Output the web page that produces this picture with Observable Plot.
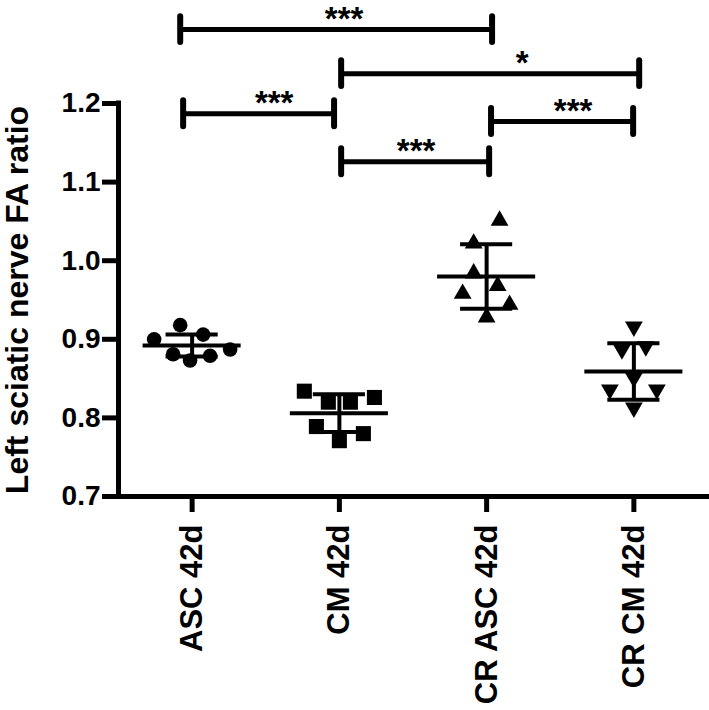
<!DOCTYPE html>
<html>
<head>
<meta charset="utf-8">
<script src="https://cdn.jsdelivr.net/npm/d3@7"></script>
<script src="https://cdn.jsdelivr.net/npm/@observablehq/plot@0.6"></script>
<style>
  html, body { margin: 0; padding: 0; background: #fff; }
  #chart { width: 709px; height: 710px; }
</style>
</head>
<body>
<div id="chart"></div>
<script>
// ---- data ----
const groups = ["ASC 42d", "CM 42d", "CR ASC 42d", "CR CM 42d"];
const yTicks = [0.7, 0.8, 0.9, 1.0, 1.1, 1.2];
const yLabel = "Left sciatic nerve FA ratio";

// individual animals (FA ratio)
const ascValues   = [0.900, 0.918, 0.906, 0.881, 0.873, 0.879, 0.887];
const cmValues    = [0.834, 0.820, 0.820, 0.826, 0.789, 0.780, 0.771];
const crAscValues = [1.051, 1.022, 0.984, 0.968, 0.958, 0.944, 0.928];
const crCmValues  = [0.916, 0.887, 0.891, 0.851, 0.836, 0.836, 0.813];
// horizontal scatter of each point within its group (in group units)
const ascSpread   = [-0.258, -0.081, 0.075, -0.129, -0.014, 0.122, 0.258];
const cmSpread    = [-0.238, -0.075, 0.075, 0.238, -0.156, 0.163, 0.0];
const crAscSpread = [0.088, -0.088, -0.088, 0.075, -0.163, 0.156, 0.0];
const crCmSpread  = [0.0, -0.081, 0.081, 0.0, -0.163, 0.156, 0.0];

// mean and SD per group
const means = [0.892, 0.806, 0.980, 0.859];
const sds   = [0.014, 0.024, 0.041, 0.036];

// significance brackets: from group position, to group position, height, label, label position
const bracketFrom  = [-0.081, 1.012, -0.061, 2.030, 1.012];
const bracketTo    = [2.037, 3.036, 0.964, 2.995, 2.017];
const bracketY     = [1.294, 1.238, 1.187, 1.177, 1.126];
const bracketLabel = ["***", "*", "***", "***", "***"];
const bracketLabelX = [1.032, 2.241, 0.557, 2.587, 1.521];

// ---- build tables ----
const valueSets = [ascValues, cmValues, crAscValues, crCmValues];
const spreadSets = [ascSpread, cmSpread, crAscSpread, crCmSpread];
const points = valueSets.flatMap((vals, g) =>
  vals.map((v, i) => ({g, x: g + spreadSets[g][i], y: v})));
const summary = groups.map((name, g) => ({g, mean: means[g], lo: means[g] - sds[g], hi: means[g] + sds[g]}));
const brackets = bracketFrom.map((f, i) => ({x1: f, x2: bracketTo[i], y: bracketY[i], label: bracketLabel[i], lx: bracketLabelX[i]}));

const triangleDown = {
  draw(context, size) {
    const s3 = Math.sqrt(3);
    const y = -Math.sqrt(size / (s3 * 3));
    context.moveTo(0, -y * 2);
    context.lineTo(-s3 * y, y);
    context.lineTo(s3 * y, y);
    context.closePath();
  }
};
const symbolList = ["circle", "square", "triangle", triangleDown];
const radii = [7.3, 8.5, 6.6, 6.6];

const capHalf = 0.0165;
const font = "'Liberation Sans', Arial, Helvetica, sans-serif";

const chart = Plot.plot({
  width: 709,
  height: 710,
  marginLeft: 118,
  marginRight: 2,
  marginTop: 103,
  marginBottom: 214,
  x: {type: "linear", domain: [-0.5, 3.5], axis: null},
  y: {domain: [0.7, 1.2], axis: null},
  style: {fontFamily: font, background: "#fff", color: "#000", overflow: "visible"},
  marks: [
    // axes
    Plot.axisY({ticks: yTicks, tickFormat: d => d.toFixed(1), tickSize: 16, tickPadding: 2,
      fontSize: 28, fontWeight: "bold", strokeWidth: 5, label: null}),
    Plot.axisX({ticks: [0, 1, 2, 3], tickFormat: i => groups[i], tickSize: 16, tickPadding: 12,
      tickRotate: -90, fontSize: 31, fontWeight: "bold", strokeWidth: 5, label: null}),
    Plot.ruleY([0.7], {strokeWidth: 5, strokeLinecap: "square"}),
    Plot.ruleX([-0.5], {y1: 0.7, y2: 1.2, strokeWidth: 5, strokeLinecap: "square"}),
    Plot.text([yLabel], {frameAnchor: "left", y: 0.95, dx: -101, rotate: -90, text: d => d,
      fontSize: 32, fontWeight: "bold", fill: "#000", lineAnchor: "middle", textAnchor: "middle"}),

    // points
    ...symbolList.map((sym, g) => Plot.dot(points.filter(d => d.g === g), {
      x: "x", y: "y", r: radii[g], symbol: () => sym, fill: "#000", stroke: "none"})),

    // mean and SD
    Plot.ruleY(summary, {x1: d => d.g - 0.333, x2: d => d.g + 0.333, y: "mean", strokeWidth: 4}),
    Plot.ruleX(summary, {x: "g", y1: "lo", y2: "hi", strokeWidth: 4}),
    Plot.ruleY(summary, {x1: d => d.g - 0.177, x2: d => d.g + 0.177, y: "hi", strokeWidth: 4}),
    Plot.ruleY(summary, {x1: d => d.g - 0.177, x2: d => d.g + 0.177, y: "lo", strokeWidth: 4}),

    // significance brackets
    Plot.ruleY(brackets, {x1: "x1", x2: "x2", y: "y", strokeWidth: 5}),
    Plot.ruleX(brackets, {x: "x1", y1: d => d.y - capHalf, y2: d => d.y + capHalf, strokeWidth: 6, strokeLinecap: "round"}),
    Plot.ruleX(brackets, {x: "x2", y1: d => d.y - capHalf, y2: d => d.y + capHalf, strokeWidth: 6, strokeLinecap: "round"}),
    Plot.text(brackets, {x: "lx", y: "y", text: "label", dy: 0, lineAnchor: "bottom",
      fontSize: 33, fontWeight: "bold", fill: "#000"})
  ]
});
document.getElementById("chart").appendChild(chart);
</script>
</body>
</html>
